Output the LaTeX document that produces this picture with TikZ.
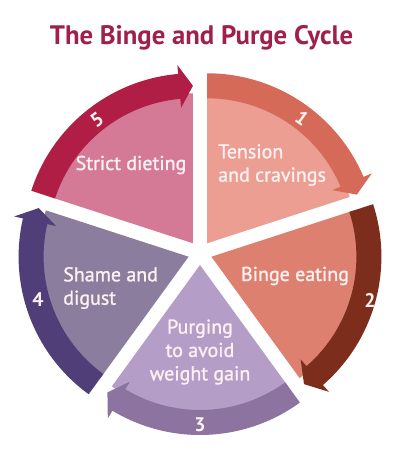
\documentclass[tikz,border=0pt]{standalone}
\usepackage{fontspec}
\setmainfont{PT Sans}
\newfontfamily\semifont[FakeBold=1.3]{PT Sans}
\usetikzlibrary{calc}
\definecolor{titlecol}{RGB}{160,32,76}
\definecolor{lightA}{RGB}{236,158,146}
\definecolor{darkA}{RGB}{214,106,88}
\definecolor{lightB}{RGB}{222,128,112}
\definecolor{darkB}{RGB}{125,45,28}
\definecolor{lightC}{RGB}{180,158,200}
\definecolor{darkC}{RGB}{140,115,160}
\definecolor{lightD}{RGB}{138,125,158}
\definecolor{darkD}{RGB}{80,62,120}
\definecolor{lightE}{RGB}{212,122,150}
\definecolor{darkE}{RGB}{176,30,70}
\definecolor{txt}{RGB}{252,240,240}
\newcommand\cycseg[3]{%
  \pgfmathsetmacro\sa{#1}%
  \pgfmathsetmacro\ea{#1-72}%
  \pgfmathsetmacro\ba{#1-72+5}%
  \pgfmathsetmacro\bis{#1-36}%
  \begin{scope}[shift={(\bis:12)}]
    \fill[#2] (0,0) -- (\sa:150) arc[start angle=\sa, end angle=\ea, radius=150] -- cycle;
    \fill[#3] (\sa:145) -- (\sa:170) arc[start angle=\sa, end angle=\ba, radius=170]
      -- (\ba:179) -- (\ea:157.5) -- (\ba:136) -- (\ba:145)
      arc[start angle=\ba, end angle=\sa, radius=145] -- cycle;
  \end{scope}}
\begin{document}
\begin{tikzpicture}[x=0.025cm,y=0.025cm,
  lbl/.style={text=txt, font=\semifont\fontsize{14.2}{16.6}\selectfont, inner sep=0pt},
  num/.style={text=txt, font=\fontsize{14}{16}\selectfont\bfseries, inner sep=0pt}]
\useasboundingbox (0,0) rectangle (400,455);
\fill[white] (0,0) rectangle (400,455);
\begin{scope}[shift={(200,202)}]
  \cycseg{90}{lightA}{darkA}
  \cycseg{18}{lightB}{darkB}
  \cycseg{-54}{lightC}{darkC}
  \cycseg{-126}{lightD}{darkD}
  \cycseg{162}{lightE}{darkE}
\end{scope}
\node[text=titlecol, font=\fontsize{19}{22}\selectfont\bfseries, anchor=base, inner sep=0pt] (title) at (201.5,410) {The Binge and Purge Cycle};
\node[lbl] (t5) at (131,290) {Strict dieting};
\node[lbl, align=left, anchor=west] (t1) at (218,290) {Tension\\and cravings};
\node[lbl] (t2) at (295,179) {Binge eating};
\node[lbl, align=left, anchor=west] (t4) at (63,167) {Shame and\\digust};
\node[lbl, align=center] (t3) at (200,103) {Purging\\to avoid\\weight gain};
\node[num, rotate=36] (n5) at (97,335) {5};
\node[num, rotate=-36] (n1) at (302,337) {1};
\node[num] (n2) at (370,155) {2};
\node[num] (n3) at (200,30) {3};
\node[num] (n4) at (38,155) {4};
\end{tikzpicture}
\end{document}
